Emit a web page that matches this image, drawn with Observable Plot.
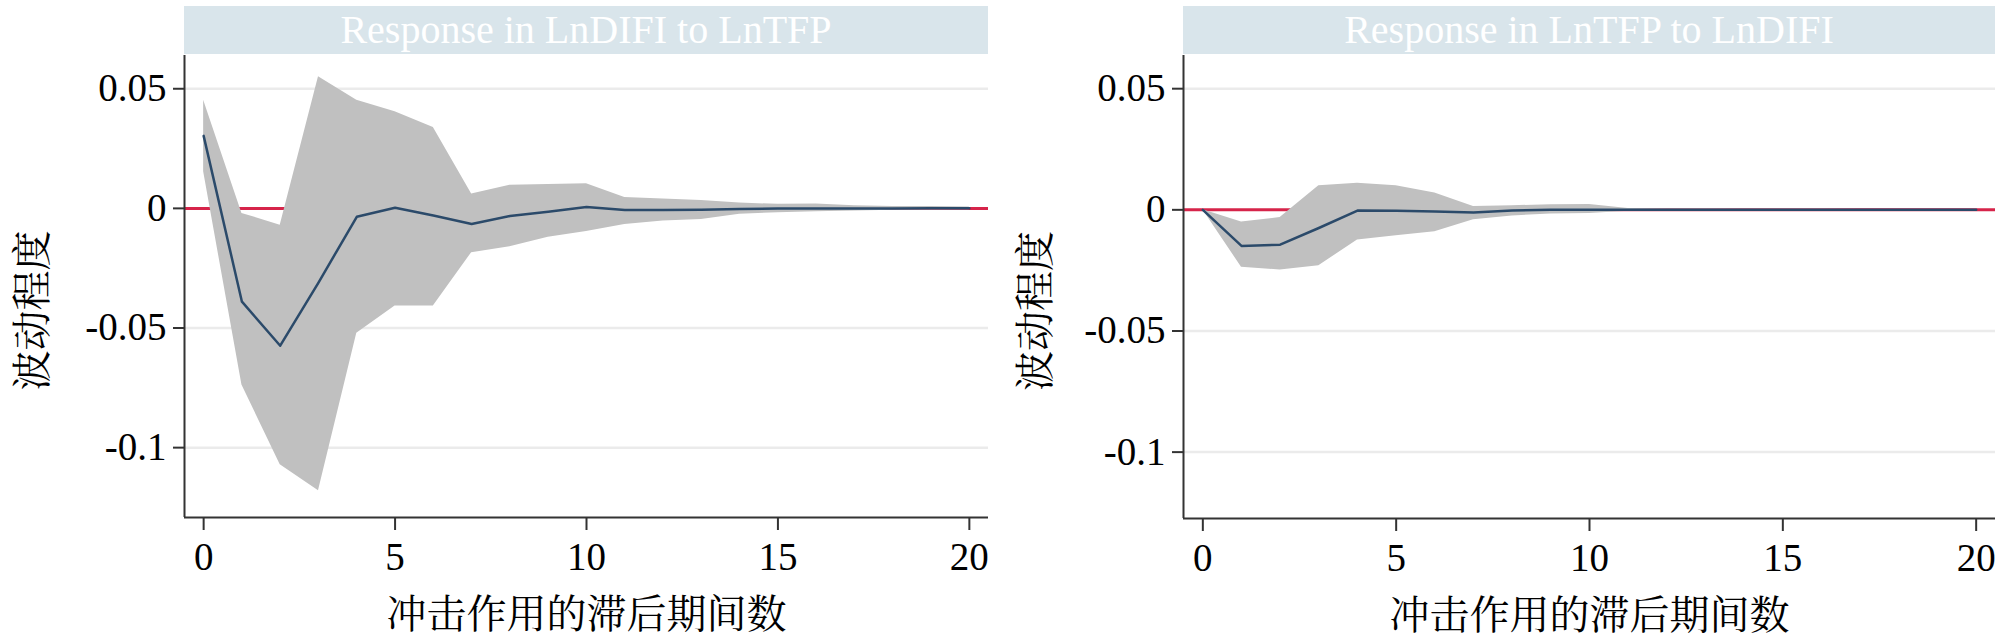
<!DOCTYPE html>
<html>
<head>
<meta charset="utf-8">
<script src="https://cdn.jsdelivr.net/npm/d3@7"></script>
<script src="https://cdn.jsdelivr.net/npm/@observablehq/plot@0.6"></script>
<style>
  html, body { margin: 0; padding: 0; background: #fff; }
  #wrap { display: flex; width: 2000px; height: 640px; overflow: hidden; }
  .panel { width: 1000px; height: 640px; position: relative; }
  .band {
    height: 48px; margin-top: 6px; background: #d9e5eb; color: #fff;
    font-family: "Liberation Serif", "Times New Roman", serif; font-size: 40px;
    line-height: 48px; text-align: center; white-space: nowrap; overflow: hidden;
  }
  svg { display: block; }
</style>
</head>
<body>
<div id="wrap"></div>
<script>
// ---- data ----
const periods = [0,1,2,3,4,5,6,7,8,9,10,11,12,13,14,15,16,17,18,19,20];

const panelTitles = ["Response in LnDIFI to LnTFP", "Response in LnTFP to LnDIFI"];
const yLabel = "波动程度";
const xLabel = "冲击作用的滞后期间数";

const xTicks = [0, 5, 10, 15, 20];
const yTicks = [0.05, 0, -0.05, -0.1];
const yTickLabels = ["0.05", "0", "-0.05", "-0.1"];

// Panel 1: Response in LnDIFI to LnTFP
const irfA   = [0.0303, -0.0390, -0.0574, -0.0310, -0.0035, 0.0003, -0.0030, -0.0065, -0.0032, -0.0014, 0.0006, -0.0007, -0.0007, -0.0006, -0.0003, -0.0001, -0.0001, 0.0000, 0.0000, 0.0001, 0.0001];
const upperA = [0.0452, -0.0021, -0.0070, 0.0550, 0.0452, 0.0404, 0.0338, 0.0060, 0.0097, 0.0100, 0.0103, 0.0045, 0.0039, 0.0033, 0.0022, 0.0017, 0.0018, 0.0011, 0.0008, 0.0008, 0.0006];
const lowerA = [0.0153, -0.0738, -0.1072, -0.1180, -0.0522, -0.0408, -0.0408, -0.0185, -0.0160, -0.0121, -0.0097, -0.0067, -0.0053, -0.0046, -0.0025, -0.0018, -0.0014, -0.0011, -0.0008, -0.0007, -0.0006];

// Panel 2: Response in LnTFP to LnDIFI
const irfB   = [0.0000, -0.0149, -0.0144, -0.0075, -0.0003, -0.0004, -0.0007, -0.0011, -0.0003, 0.0000, 0.0000, 0.0000, 0.0000, 0.0000, 0.0000, 0.0000, 0.0000, 0.0000, 0.0000, 0.0000, 0.0000];
const upperB = [0.0000, -0.0050, -0.0032, 0.0099, 0.0110, 0.0099, 0.0069, 0.0014, 0.0017, 0.0021, 0.0022, 0.0005, 0.0003, 0.0003, 0.0002, 0.0002, 0.0002, 0.0001, 0.0001, 0.0001, 0.0001];
const lowerB = [0.0000, -0.0237, -0.0248, -0.0231, -0.0124, -0.0107, -0.0090, -0.0041, -0.0025, -0.0017, -0.0015, -0.0006, -0.0003, -0.0003, -0.0002, -0.0002, -0.0002, -0.0001, -0.0001, -0.0001, -0.0001];

// ---- build ----
const serif = "'Liberation Serif', 'Times New Roman', serif";
const cjk = "'Noto Serif CJK SC', 'Noto Sans CJK SC', sans-serif";

const panels = [
  {title: panelTitles[0], irf: irfA, upper: upperA, lower: lowerA,
   yDomain: [-0.1292, 0.0639], mLeft: 184, mRight: 12, mBottom: 123, yLabDx: -151},
  {title: panelTitles[1], irf: irfB, upper: upperB, lower: lowerB,
   yDomain: [-0.1274, 0.0637], mLeft: 183, mRight: 5, mBottom: 122, yLabDx: -147}
];
const xDomain = [-0.5, 20.5];

const wrap = document.getElementById("wrap");
for (const p of panels) {
  const rows = periods.map((t, i) => ({t, irf: p.irf[i], lo: p.lower[i], hi: p.upper[i]}));
  const panel = document.createElement("div");
  panel.className = "panel";
  const band = document.createElement("div");
  band.className = "band";
  band.style.marginLeft = p.mLeft + "px";
  band.style.marginRight = p.mRight + "px";
  band.textContent = p.title;
  panel.appendChild(band);

  const chart = Plot.plot({
    width: 1000,
    height: 586,
    marginTop: 1,
    marginBottom: p.mBottom,
    marginLeft: p.mLeft,
    marginRight: p.mRight,
    style: {fontFamily: serif, background: "transparent", overflow: "visible"},
    x: {domain: xDomain},
    y: {domain: p.yDomain},
    marks: [
      Plot.ruleY(yTicks.filter(d => d !== 0), {stroke: "#ebebeb", strokeWidth: 2.5}),
      Plot.ruleY([0], {stroke: "#d6244a", strokeWidth: 3}),
      Plot.areaY(rows, {x: "t", y1: "lo", y2: "hi", fill: "#c0c0c0"}),
      Plot.lineY(rows, {x: "t", y: "irf", stroke: "#2b4a6a", strokeWidth: 2.5}),
      Plot.ruleX([xDomain[0]], {stroke: "#333", strokeWidth: 2}),
      Plot.ruleY([p.yDomain[0]], {stroke: "#333", strokeWidth: 2}),
      Plot.axisX({ticks: xTicks, tickFormat: d => String(d), tickSize: 13, tickPadding: 12,
                  fontSize: 39, stroke: "#333", strokeWidth: 2, label: null, fill: "#000"}),
      Plot.axisY({ticks: yTicks, tickFormat: (d) => yTickLabels[yTicks.indexOf(d)], tickSize: 11, tickPadding: 7,
                  fontSize: 39, stroke: "#333", strokeWidth: 2, label: null, fill: "#000"}),
      Plot.text([yLabel], {frameAnchor: "left", rotate: -90, dx: p.yLabDx, dy: 24,
                  fontSize: 40, fontFamily: cjk, fill: "#000", lineAnchor: "middle", textAnchor: "middle"}),
      Plot.text([xLabel], {frameAnchor: "bottom", dy: 98, fontSize: 40, fontFamily: cjk,
                  fill: "#000", lineAnchor: "middle", textAnchor: "middle"})
    ]
  });
  panel.appendChild(chart);
  wrap.appendChild(panel);
}
</script>
</body>
</html>
